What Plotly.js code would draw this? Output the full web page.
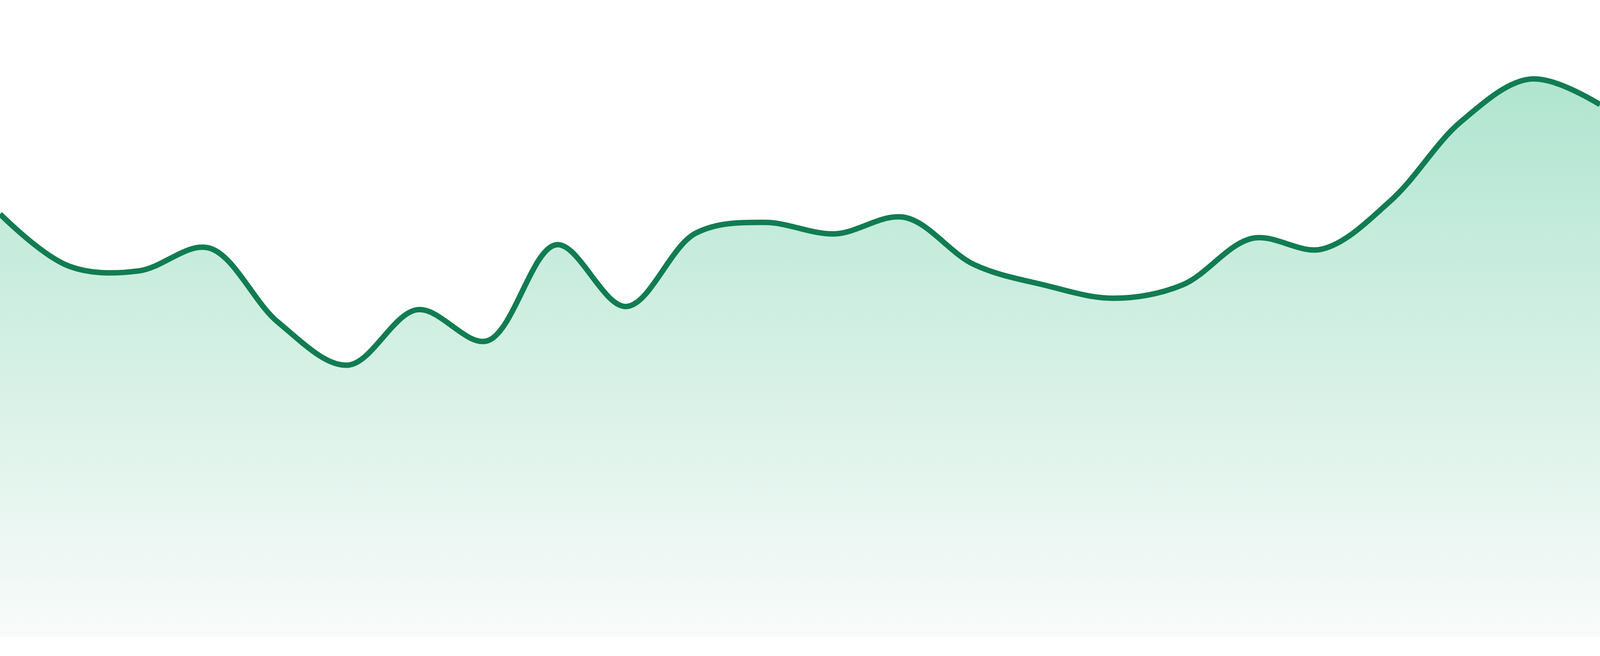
<!DOCTYPE html>
<html>
<head>
<meta charset="utf-8">
<script src="https://cdn.plot.ly/plotly-3.0.1.min.js"></script>
<style>
  html, body { margin: 0; padding: 0; background: #ffffff; overflow: hidden; }
  #chart { width: 100vw; height: 100vh; }
</style>
</head>
<body>
<div id="chart"></div>
<script>
// one point per step (0-100 scale)
var steps = [0, 1, 2, 3, 4, 5, 6, 7, 8, 9, 10, 11, 12, 13, 14, 15, 16, 17, 18, 19, 20, 21, 22, 23];
var values = [66.4, 58.2, 57.5, 61.1, 49.4, 42.7, 51.4, 46.5, 61.6, 51.9, 63.4, 65.1,
              63.3, 65.9, 58.5, 55.3, 53.2, 55.3, 62.6, 60.9, 68.6, 80.9, 87.6, 83.6];

var lineColor = '#117c52';

// the viewport can come out narrower than asked for, so fill whatever it is
var W = window.innerWidth;
var H = window.innerHeight;
var ky = H / 1680;

var trace = {
  x: steps,
  y: values,
  type: 'scatter',
  mode: 'lines',
  line: { color: lineColor, width: 14 * ky, shape: 'spline', smoothing: 1 },
  fill: 'tozeroy',
  fillgradient: {
    type: 'vertical',
    start: 0,
    stop: Math.max.apply(null, values),
    colorscale: [
      [0, 'rgb(249,251,250)'],
      [1, 'rgb(176,229,208)']
    ]
  },
  hoverinfo: 'skip'
};

var layout = {
  width: W,
  height: H,
  showlegend: false,
  paper_bgcolor: '#ffffff',
  plot_bgcolor: '#ffffff',
  margin: { l: 0, r: 0, t: 0, b: 48 * ky, pad: 0 },
  xaxis: { visible: false, range: [0, 23], fixedrange: true },
  yaxis: { visible: false, range: [0, 100], fixedrange: true }
};

Plotly.newPlot('chart', [trace], layout, { staticPlot: true, displayModeBar: false });
</script>
</body>
</html>
